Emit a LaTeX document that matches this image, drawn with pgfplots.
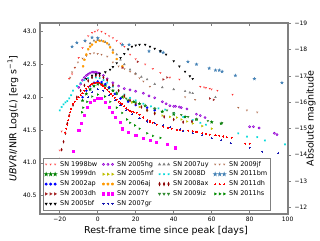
\documentclass[border=0pt]{standalone}
\usepackage{pgfplots}
\pgfplotsset{compat=1.18}
\usepackage{fontspec}
\setmainfont{DejaVu Sans}
\usetikzlibrary{plotmarks}

\pgfdeclareplotmark{fstar}{%
  \pgfpathmoveto{\pgfqpointpolar{90}{1.3\pgfplotmarksize}}%
  \pgfpathlineto{\pgfqpointpolar{126}{0.5\pgfplotmarksize}}%
  \pgfpathlineto{\pgfqpointpolar{162}{1.3\pgfplotmarksize}}%
  \pgfpathlineto{\pgfqpointpolar{198}{0.5\pgfplotmarksize}}%
  \pgfpathlineto{\pgfqpointpolar{234}{1.3\pgfplotmarksize}}%
  \pgfpathlineto{\pgfqpointpolar{270}{0.5\pgfplotmarksize}}%
  \pgfpathlineto{\pgfqpointpolar{306}{1.3\pgfplotmarksize}}%
  \pgfpathlineto{\pgfqpointpolar{342}{0.5\pgfplotmarksize}}%
  \pgfpathlineto{\pgfqpointpolar{18}{1.3\pgfplotmarksize}}%
  \pgfpathlineto{\pgfqpointpolar{54}{0.5\pgfplotmarksize}}%
  \pgfpathclose
  \pgfusepathqfillstroke}

\definecolor{c98bw}{rgb}{1,0.1,0.1}
\definecolor{c99dn}{rgb}{0,0.5,0}
\definecolor{c02ap}{rgb}{0,0,1}
\definecolor{c03dh}{rgb}{0.65,0.16,0.16}
\definecolor{c05bf}{rgb}{0,0,0}
\definecolor{c05hg}{rgb}{0.58,0,0.83}
\definecolor{c05mf}{rgb}{0.75,0.75,0}
\definecolor{c06aj}{rgb}{1,0.6,0}
\definecolor{c07Y}{rgb}{1,0,1}
\definecolor{c07gr}{rgb}{0.1,0.1,0.7}
\definecolor{c07uy}{rgb}{0.5,0.5,0.5}
\definecolor{c08D}{rgb}{0,0.85,0.85}
\definecolor{c08ax}{rgb}{0.55,0,0}
\definecolor{c09iz}{rgb}{0.2,0.55,0.2}
\definecolor{c09jf}{rgb}{0.63,0.32,0.18}
\definecolor{c11bm}{rgb}{0.27,0.51,0.71}
\definecolor{c11dh}{rgb}{1,0,0}
\definecolor{c11hs}{rgb}{0,0.55,0}
\definecolor{framegray}{rgb}{0.5,0.5,0.5}

\pgfplotsset{
  sc/.style={only marks, mark size=1.05pt,
    legend image code/.code={\draw[##1] plot[only marks] coordinates {(0pt,0pt) (4.5pt,0pt) (9pt,0pt)};}},
}

\begin{document}
\begin{tikzpicture}
\useasboundingbox (0,0) rectangle (320pt,240pt);
\begin{axis}[
  at={(40pt,26pt)}, anchor=south west,
  scale only axis, width=248pt, height=191pt,
  xmin=-30.4, xmax=100.2, ymin=40.22, ymax=43.13,
  xtick={-20,0,20,40,60,80,100},
  xticklabels={−20,0,20,40,60,80,100},
  ytick={40.5,41.0,41.5,42.0,42.5,43.0},
  yticklabels={40.5,41.0,41.5,42.0,42.5,43.0},
  ytick pos=left, xtick pos=both,
  tick align=inside, major tick length=3pt,
  tick style={framegray, line width=0.6pt},
  axis line style={framegray, line width=1.2pt},
  ticklabel style={font=\fontsize{6}{7}\selectfont},
  xlabel={Rest-frame time since peak [days]},
  ylabel={\textit{UBVRI}/NIR Log(\textit{L}) [erg s\textsuperscript{−1}]},
  label style={font=\fontsize{9.5}{11}\selectfont},
  xlabel style={at={(axis description cs:0.508,-0.089)}, anchor=center},
  ylabel style={at={(axis description cs:-0.109,0.5)}, anchor=center},
  legend columns=4,
  legend cell align=left,
  legend style={at={(0.012,0.018)}, anchor=south west,
    draw=framegray, line width=0.8pt, font=\fontsize{6.5}{7}\selectfont,
    inner sep=1.5pt, row sep=0pt, nodes={inner sep=1.7pt},
    /tikz/every odd column/.append style={column sep=2pt},
    /tikz/every even column/.append style={column sep=3.5pt}},
]
% 1 SN 1998bw
\addplot[sc, mark=Mercedes star flipped, color=c98bw, mark options={line width=0.5pt}] coordinates {
(-20,41.19)(-19,41.48)(-15,42.28)(-13.5,42.35)(-12,42.45)(-10,42.6)(-8,42.75)(-6.5,42.85)(-5,42.93)(-3,42.98)(-1.5,43.0)(0,43.02)(2,43.0)(4,42.97)(6,42.93)(8,42.9)(10,42.86)(12,42.82)(14,42.77)(17,42.65)(20,42.58)(25,42.5)(29,42.43)(33,42.37)(38,42.3)(43,42.27)(54,42.16)(56,42.15)(57,42.14)(59,42.13)(60,42.12)(63,42.1)(71,42.04)};
\addlegendentry{SN 1998bw}
% 2 SN 2005hg
\addplot[sc, mark=o, color=c05hg, mark options={line width=0.6pt}] coordinates {
(-10,42.15)(-9,42.2)(-8,42.26)(-7,42.3)(-6,42.33)(-5,42.35)(-4,42.37)(-3,42.38)(-2,42.38)(-1,42.38)(0,42.37)(1,42.36)(3,42.33)(5,42.28)(8,42.22)(11,42.17)(14,42.13)(17,42.11)(20,42.09)(24,42.06)(27,42.02)(30,41.99)(34,41.93)(36,41.9)(38,41.87)(40,41.86)(41,41.86)(43,41.85)(44,41.84)(47,41.82)(52,41.74)(54,41.72)(56.5,41.69)(80,41.55)(82,41.55)(85,41.53)(93,41.45)(94.4,41.43)};
\addlegendentry{SN 2005hg}
% 3 SN 2007uy
\addplot[sc, mark=triangle*, color=c07uy] coordinates {
(-4,42.82)(-2,42.86)(0,42.87)(2,42.86)(4,42.84)(6,42.8)(8,42.72)(10,42.65)(12,42.57)(14,42.5)(17,42.42)(20,42.36)(23,42.31)(26,42.27)(30,42.2)(34,42.15)(40,42.12)(46,42.09)(48.5,42.07)(50,42.06)(62,42.0)};
\addlegendentry{SN 2007uy}
% 4 SN 2009jf
\addplot[sc, mark=Mercedes star flipped, color=c09jf, mark options={line width=0.5pt}] coordinates {
(-14.5,42.3)(-13.5,42.38)(-12,42.45)(-10.4,42.53)(-8,42.59)(-6,42.63)(-4,42.66)(-2,42.67)(0,42.66)(2,42.65)(5,42.62)(8,42.53)(11,42.47)(14,42.43)(17,42.39)(19.7,42.35)(22,42.29)(24,42.24)(27.5,42.16)(46,42.0)(51.3,41.96)(74,41.84)(78.6,41.8)(84,41.77)};
\addlegendentry{SN 2009jf}
% 5 SN 1999dn
\addplot[sc, mark=fstar, color=c99dn] coordinates {
(-8,41.95)(-6,42.05)(-4,42.12)(-2,42.17)(0,42.2)(2,42.2)(4,42.18)(6,42.14)(8,42.1)(10,42.06)(13,42.0)(16,41.95)(19,41.93)(22,41.9)(25,41.87)(30,41.82)(34,41.78)(40,41.74)(46,41.7)(52,41.66)(60,41.62)(65,41.6)};
\addlegendentry{SN 1999dn}
% 6 SN 2005mf
\addplot[sc, mark=triangle*, color=c05mf, mark options={rotate=-90}] coordinates {
(14,42.0)(18,41.92)(22,41.85)(26,41.8)(30,41.76)(34,41.72)(38,41.7)(41.6,41.69)(44,41.66)(47,41.63)(50,41.6)(55,41.56)(60,41.52)};
\addlegendentry{SN 2005mf}
% 7 SN 2008D
\addplot[sc, mark=x, color=c08D, mark options={line width=0.7pt}] coordinates {
(-20,41.8)(-19,41.85)(-18,41.89)(-17,41.92)(-16,41.94)(-15,41.98)(-14,42.03)(-13,42.1)(-11,42.17)(-9,42.22)(-7,42.26)(-5,42.29)(-3,42.3)(-1,42.3)(1,42.29)(3,42.26)(5,42.22)(8,42.16)(11,42.1)(14,42.04)(17,41.99)(20,41.95)(24,41.9)(28,41.86)(32,41.83)(35.5,41.81)(40,41.76)(45,41.7)(50,41.65)(54,41.61)(57,41.58)(74,41.45)(78.6,41.4)(84,41.39)(88,41.34)(98.6,41.28)};
\addlegendentry{SN 2008D}
% 8 SN 2011bm
\addplot[sc, mark=fstar, color=c11bm] coordinates {
(-13.5,42.77)(-11,42.83)(-6.7,42.86)(-3,42.91)(0,42.9)(13,42.8)(16.5,42.8)(27,42.7)(33,42.7)(34.5,42.68)(47.5,42.54)(52,42.5)(58.7,42.44)(62,42.41)(64,42.41)(65.5,42.39)(72.5,42.33)(82.5,42.28)(97,42.22)};
\addlegendentry{SN 2011bm}
% 9 SN 2002ap
\addplot[sc, mark=*, color=c02ap] coordinates {
(-8,42.0)(-6,42.1)(-4,42.17)(-2,42.22)(0,42.24)(2,42.23)(4,42.2)(6,42.15)(9,42.05)(12,41.98)(16,41.93)(20,41.88)(26,41.84)(30,41.8)};
\addlegendentry{SN 2002ap}
% 10 SN 2006aj
\addplot[sc, mark=pentagon*, color=c06aj] coordinates {
(-7.7,42.47)(-7,42.57)(-6,42.65)(-5,42.73)(-4,42.77)(-3,42.8)(-1,42.84)(1,42.86)(3,42.85)(5,42.82)(6.5,42.76)(8,42.68)(10,42.58)(13,42.47)};
\addlegendentry{SN 2006aj}
% 11 SN 2008ax
\addplot[sc, mark=diamond*, color=c08ax, mark options={yscale=1.3,xscale=0.8}] coordinates {
(-20,41.05)(-19,41.2)(-18,41.32)(-17,41.45)(-16,41.6)(-15,41.72)(-13,41.88)(-11,42.0)(-9,42.1)(-7,42.18)(-5,42.25)(-3,42.3)(-1,42.33)(1,42.33)(3,42.3)(5,42.26)(8,42.18)(11,42.1)(14,42.02)(17,41.95)(20,41.9)(23,41.85)(26,41.8)(30,41.75)(35,41.7)(40,41.66)(45,41.62)(49.6,41.63)};
\addlegendentry{SN 2008ax}
% 12 SN 2011dh
\addplot[sc, mark=+, color=c11dh, mark options={line width=1.1pt}] coordinates {
(-17,41.46)(-16.5,41.52)(-16,41.58)(-15.5,41.65)(-15,41.71)(-14.5,41.77)(-14,41.82)(-13,41.89)(-12,41.93)(-11,41.97)(-10,42.0)(-9,42.03)(-8,42.06)(-7,42.1)(-6,42.13)(-5,42.16)(-4,42.18)(-3,42.2)(-2,42.21)(-1,42.22)(0,42.22)(1,42.21)(2,42.19)(3,42.17)(4,42.14)(5,42.11)(6,42.08)(7,42.05)(8,42.02)(9,41.99)(10,41.96)(11,41.93)(12,41.91)(13,41.89)(14,41.86)(15,41.83)(16,41.81)(17,41.79)(18,41.78)(19,41.77)(20.5,41.76)(22,41.73)(24,41.69)(26,41.65)(27.5,41.63)(29,41.61)(31,41.58)(34.5,41.55)(37,41.53)(39,41.52)(41.6,41.5)(43.3,41.5)(45,41.49)(47.6,41.49)(50,41.48)(52,41.47)(55,41.45)(57,41.44)(59,41.43)(62,41.42)(64,41.41)(66,41.4)(68,41.39)(70.6,41.38)(77.6,41.29)(80,41.29)};
\addlegendentry{SN 2011dh}
% 13 SN 2003dh
\addplot[sc, mark=triangle*, color=c03dh, mark options={rotate=-90}] coordinates {
(13,42.45)(21,42.54)(34.5,42.27)(36.5,42.3)(59,41.98)(61,41.96)};
\addlegendentry{SN 2003dh}
% 14 SN 2007Y
\addplot[sc, mark=square*, color=c07Y] coordinates {
(-13,41.17)(-10,41.5)(-8.5,41.6)(-7,41.72)(-5.5,41.85)(-4,41.92)(-2,41.96)(0,41.99)(2,41.98)(4,41.93)(6,41.85)(7.5,41.77)(9,41.7)(11.7,41.62)(13,41.52)(16,41.47)(20,41.42)(24,41.38)(27.5,41.35)(31,41.32)(36.6,41.29)(40.7,41.23)};
\addlegendentry{SN 2007Y}
% 15 SN 2009iz
\addplot[sc, mark=triangle*, color=c09iz, mark options={rotate=180}] coordinates {
(10,42.05)(15,41.98)(20,41.92)(25,41.87)(30,41.83)(36.5,41.8)(40,41.76)(44,41.73)(47.6,41.7)(52,41.67)(58,41.64)(65.5,41.61)};
\addlegendentry{SN 2009iz}
% 16 SN 2011hs
\addplot[sc, mark=triangle*, color=c11hs, mark options={rotate=-90}] coordinates {
(-8.3,41.77)(-7.7,41.84)(-5.6,41.93)(-3,42.01)(0,42.04)(3.8,42.01)(6.5,41.93)(10,41.84)(12.8,41.76)(15.4,41.66)(17,41.61)(19.6,41.57)(22,41.52)(26,41.45)(29,41.41)(33,41.38)};
\addlegendentry{SN 2011hs}
% 17 SN 2005bf
\addplot[sc, mark=triangle*, color=c05bf, mark options={rotate=180}] coordinates {
(-6,42.28)(-3,42.33)(-1,42.35)(1,42.36)(4,42.38)(6.5,42.42)(8,42.46)(10,42.52)(12,42.6)(14,42.66)(16,42.73)(18,42.77)(20,42.79)(22,42.8)(25,42.8)(27.5,42.77)(30,42.74)(33,42.7)(36,42.65)(40,42.55)(43,42.47)(46,42.39)(48.5,42.32)(50,42.28)};
\addlegendentry{SN 2005bf}
% 18 SN 2007gr
\addplot[sc, mark=+, color=c07gr, mark options={line width=0.6pt}] coordinates {
(-5,42.0)(-3,42.08)(0,42.12)(3,42.1)(6,42.03)(9,41.95)(12,41.88)(15,41.8)(18,41.74)(22,41.68)(26,41.63)(30,41.6)(34.5,41.57)(38,41.54)(43.4,41.51)(45,41.48)(50,41.45)(55,41.42)(60,41.38)(65,41.35)(70,41.3)(80,41.23)(86.6,41.17)(95,41.15)};
\addlegendentry{SN 2007gr}
\end{axis}
\begin{axis}[
  at={(40pt,26pt)}, anchor=south west,
  scale only axis, width=248pt, height=191pt,
  xmin=-30.4, xmax=100.2,
  ymin=-19.01, ymax=-11.75, y dir=reverse,
  hide x axis, axis y line*=right,
  ytick={-19,-18,-17,-16,-15,-14,-13,-12},
  yticklabels={−19,−18,−17,−16,−15,−14,−13,−12},
  tick align=outside, major tick length=3pt,
  tick style={framegray, line width=0.6pt},
  axis line style={framegray, line width=1.2pt},
  ticklabel style={font=\fontsize{6}{7}\selectfont},
  ylabel={Absolute magnitude},
  label style={font=\fontsize{9.5}{11}\selectfont},
  ylabel style={at={(axis description cs:1.093,0.5)}, anchor=center},
]
\addplot[draw=none] coordinates {(0,-15)};
\end{axis}
\end{tikzpicture}
\end{document}
